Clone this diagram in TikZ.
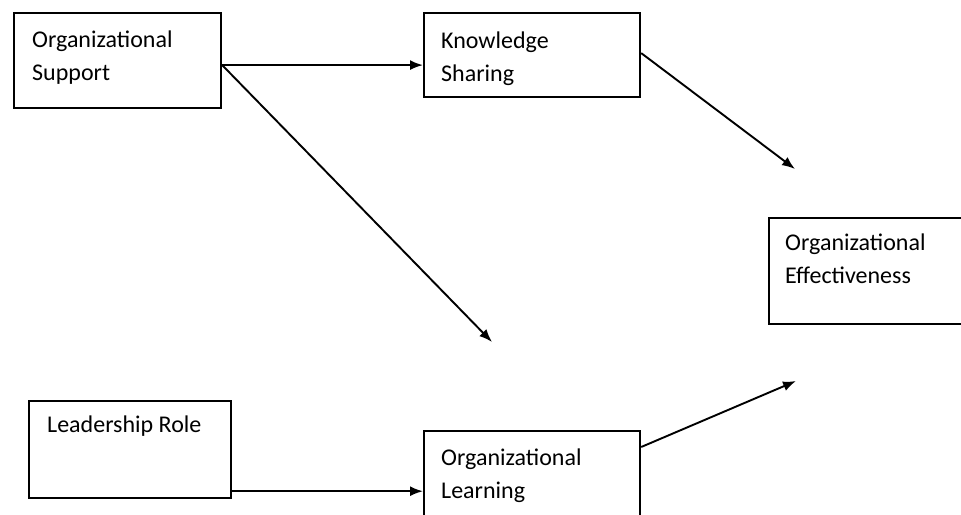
\documentclass[tikz,border=0pt]{standalone}
\usepackage{fontspec}
\setmainfont{Carlito}
\usepackage{tikz}
\usetikzlibrary{arrows.meta, positioning, calc}

\tikzset{
  box/.style 2 args={draw, line width=2.2pt, anchor=north west, inner sep=0pt,
    minimum width=#1, minimum height=#2},
  txt/.style={font=\fontsize{24}{33}\selectfont, align=left, inner sep=0pt},
  arr/.style={line width=1.9pt, -{Latex[length=13pt, width=10pt]}}
}

\begin{document}
\begin{tikzpicture}[x=1pt, y=-1pt]
                  \useasboundingbox (0,0) rectangle (961,514);

                  % boxes
                  \node[box={207pt}{95pt}] (os) at (13,12) {};
                  \node[box={216pt}{84pt}] (ks) at (423,12) {};
                  \node[box={205pt}{106pt}] (oe) at (768,217) {};
                  \node[box={202pt}{97pt}] (lr) at (28,400) {};
                  \node[box={216pt}{100pt}] (ol) at (423,430) {};

                  % texts
                  \node[txt, below right=19pt and 19pt of os.north west] (ostxt) {Organizational\\Support};
                  \node[txt, below right=20pt and 18pt of ks.north west] (kstxt) {Knowledge\\Sharing};
                  \node[txt, below right=17pt and 17pt of oe.north west] (oetxt) {Organizational\\Effectiveness};
                  \node[txt, below right=16pt and 19pt of lr.north west] (lrtxt) {Leadership Role};
                  \node[txt, below right=19pt and 18pt of ol.north west] (oltxt) {Organizational\\Learning};

                  % free ends
                  \coordinate (osout) at ([yshift=-4.5pt]os.east);
                  \coordinate (lrout) at ([yshift=8pt]lr.south east);
                  \coordinate (diagtip) at (492,342);
                  \coordinate (kstip) at (795,169);
                  \coordinate (oltip) at (796,381);

                  \draw[arr] (osout) -- (osout -| ks.west);
                  \draw[arr] (osout) -- (diagtip);
                  \draw[arr] ([yshift=2pt]ks.east) -- (kstip);
                  \draw[arr] ([yshift=-17pt]ol.north east) -- (oltip);
                  \draw[arr] (lrout) -- (lrout -| ol.west);
                \end{tikzpicture}
\end{document}
